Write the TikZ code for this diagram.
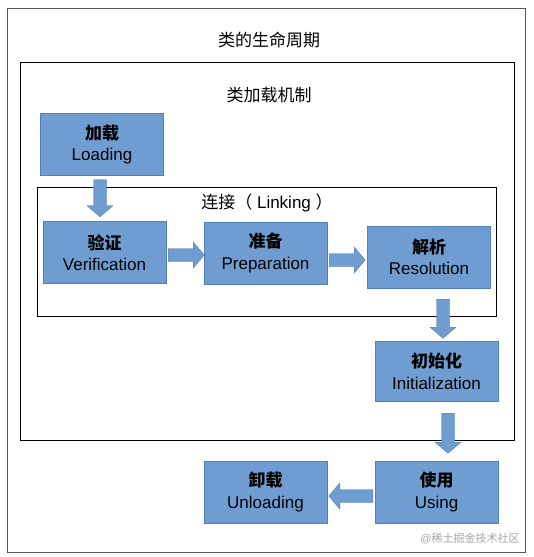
\documentclass[tikz,border=0pt]{standalone}
\usepackage{fontspec}
\setmainfont{Liberation Sans}
\newfontfamily\cjk{Noto Sans CJK SC}
\usetikzlibrary{calc}

\definecolor{boxfill}{RGB}{112,157,209}
\definecolor{boxline}{RGB}{84,127,181}

\begin{document}
\begin{tikzpicture}[x=1pt,y=-1pt,
  stage/.style={draw=boxline, fill=boxfill, minimum width=123pt, minimum height=62pt,
    inner sep=0pt, align=center, font=\fontsize{17}{21.5}\selectfont},
  barrow/.style={draw=boxline, fill=boxfill, line join=miter},
  frame/.style={draw=black, line width=.8pt},
  heading/.style={font=\fontsize{17}{20}\selectfont}]
\useasboundingbox[fill=white] (0,0) rectangle (534,557);
% frames
\draw[frame, draw=black!65] (7,8) rectangle (525,552);
\draw[frame] (20,62) rectangle (514,440);
\draw[frame] (37,187) rectangle (496,316);
\node[heading] (life) at (269,40) {\cjk 类的生命周期};
\node[heading] (mech) at (269,95) {\cjk 类加载机制};
\node[heading] (link) at (267,203) {{\cjk 连接（} Linking {\cjk ）}};
% stages
\node[stage] (load) at (102,144.5) {{\cjk\bfseries 加载}\\Loading};
\node[stage] (ver) at (104.5,252.5) {{\cjk\bfseries 验证}\\Verification};
\node[stage] (pre) at (265.5,253) {{\cjk\bfseries 准备}\\Preparation};
\node[stage] (res) at (429,257) {{\cjk\bfseries 解析}\\Resolution};
\node[stage, minimum height=60pt] (ini) at (436.5,371) {{\cjk\bfseries 初始化}\\Initialization};
\node[stage] (use) at (436.5,492) {{\cjk\bfseries 使用}\\Using};
\node[stage] (unl) at (265.5,492) {{\cjk\bfseries 卸载}\\Unloading};
% block arrows
\draw[barrow] ($(load.south)+(-2,4)$) -- ++(-6.5,0) -- ++(0,26) -- ++(-6.5,0) -- ++(13,11) -- ++(13,-11) -- ++(-6.5,0) -- ++(0,-26) -- cycle;
\draw[barrow] ($(ver.east)+(2,2.5)$) -- ++(0,-6.5) -- ++(25,0) -- ++(0,-6.5) -- ++(11,13) -- ++(-11,13) -- ++(0,-6.5) -- ++(-25,0) -- cycle;
\draw[barrow] ($(pre.east)+(2,7)$) -- ++(0,-6.5) -- ++(25,0) -- ++(0,-6.5) -- ++(11,13) -- ++(-11,13) -- ++(0,-6.5) -- ++(-25,0) -- cycle;
\draw[barrow] ($(res.south)+(14,11)$) -- ++(-6.5,0) -- ++(0,28) -- ++(-6.5,0) -- ++(13,11) -- ++(13,-11) -- ++(-6.5,0) -- ++(0,-28) -- cycle;
\draw[barrow] ($(ini.south)+(11.5,12)$) -- ++(-6.5,0) -- ++(0,29) -- ++(-6.5,0) -- ++(13,11) -- ++(13,-11) -- ++(-6.5,0) -- ++(0,-29) -- cycle;
\draw[barrow] ($(use.west)+(-2,4)$) -- ++(0,-6.5) -- ++(-33,0) -- ++(0,-6.5) -- ++(-11,13) -- ++(11,13) -- ++(0,-6.5) -- ++(33,0) -- cycle;
\node[text=black!35, font=\fontsize{11}{13}\selectfont] (mark) at (470,539) {@{\cjk 稀土掘金技术社区}};
\end{tikzpicture}
\end{document}
